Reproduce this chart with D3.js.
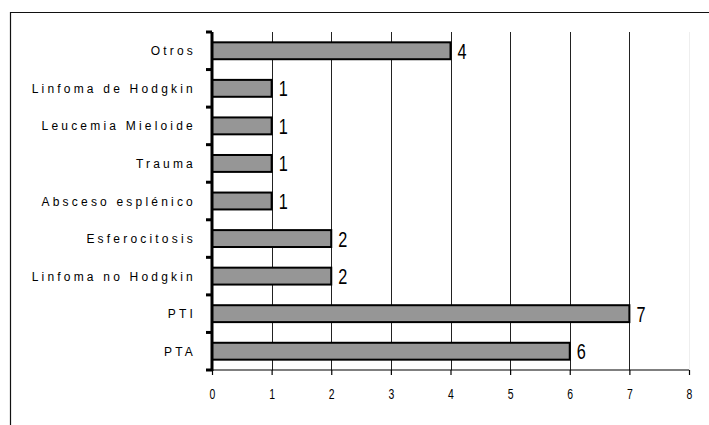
<!DOCTYPE html>
<html>
<head>
<meta charset="utf-8">
<script src="https://cdn.jsdelivr.net/npm/d3@7"></script>
<style>
  html, body { margin: 0; padding: 0; background: #fff; }
  svg { display: block; }
</style>
</head>
<body>
<svg id="chart" width="709" height="425"></svg>
<script>
// Causes of splenectomy, listed top to bottom as drawn
const categories = [
  "Otros",
  "Linfoma de Hodgkin",
  "Leucemia Mieloide",
  "Trauma",
  "Absceso esplénico",
  "Esferocitosis",
  "Linfoma no Hodgkin",
  "PTI",
  "PTA"
];
const values = [4, 1, 1, 1, 1, 2, 2, 7, 6];
const xTicks = [0, 1, 2, 3, 4, 5, 6, 7, 8];

const svg = d3.select("#chart");
const W = 709, H = 425;
const narrowFont = "'Liberation Sans', Arial, sans-serif";

// Frame line (top and left edges)
svg.append("path")
  .attr("d", `M10.5,${H} V12.5 H${W}`)
  .attr("fill", "none")
  .attr("stroke", "#111")
  .attr("stroke-width", 1.2);

const x = d3.scaleLinear().domain([0, 8]).range([212, 689]);
const y = d3.scaleBand().domain(categories).range([32, 370])
  .paddingInner(0.55).paddingOuter(0.275);

const yTop = y.range()[0], yBottom = y.range()[1];

// Vertical gridlines
svg.append("g")
  .selectAll("line")
  .data(xTicks.filter(t => t > 0))
  .join("line")
  .attr("x1", d => Math.round(x(d)) + 0.5)
  .attr("x2", d => Math.round(x(d)) + 0.5)
  .attr("y1", yTop)
  .attr("y2", yBottom)
  .attr("stroke", d => d === 8 ? "#eeeeee" : "#222")
  .attr("stroke-width", 1);

const rows = categories.map((c, i) => ({ c, v: values[i] }));

// Bars
svg.append("g")
  .selectAll("rect")
  .data(rows)
  .join("rect")
  .attr("x", x(0))
  .attr("y", d => y(d.c))
  .attr("width", d => x(d.v) - x(0))
  .attr("height", y.bandwidth())
  .attr("fill", "#969696")
  .attr("stroke", "#000")
  .attr("stroke-width", 2);

// Value labels (condensed digits)
svg.append("g")
  .selectAll("text")
  .data(rows)
  .join("text")
  .attr("transform", d =>
    `translate(${x(d.v) + 7},${y(d.c) + y.bandwidth() / 2 + 8}) scale(0.74,1)`)
  .attr("font-family", narrowFont)
  .attr("font-size", 22)
  .attr("fill", "#000")
  .text(d => d.v);

// X axis
const xAxis = d3.axisBottom(x).tickValues(xTicks).tickSize(5).tickPadding(14)
  .tickFormat(d3.format("d"));
const gx = svg.append("g").attr("transform", `translate(0,${yBottom})`).call(xAxis);
gx.select(".domain").attr("stroke", "#000").attr("stroke-width", 1.2)
  .attr("d", `M${x(0)},0H${x(8)}`);
gx.selectAll(".tick line").attr("stroke", "#000").attr("stroke-width", 1.2);
gx.selectAll(".tick text")
  .attr("transform", "scale(0.72,1)")
  .attr("font-family", narrowFont)
  .attr("font-size", 14.5)
  .attr("fill", "#000");

// Y axis: thick line with ticks on the category boundaries
const step = y.step();
const boundaries = categories.map(c => y(c) - y.paddingInner() * step / 2)
  .concat([yBottom]);
boundaries[0] = yTop;
const gy = svg.append("g");
gy.append("line")
  .attr("x1", x(0)).attr("x2", x(0))
  .attr("y1", yTop).attr("y2", yBottom + 1)
  .attr("stroke", "#000").attr("stroke-width", 3);
gy.selectAll("line.tk")
  .data(boundaries)
  .join("line")
  .attr("class", "tk")
  .attr("x1", x(0) - 6).attr("x2", x(0))
  .attr("y1", d => d).attr("y2", d => d)
  .attr("stroke", "#000").attr("stroke-width", 3);

// Category labels (widely spaced)
gy.selectAll("text")
  .data(categories)
  .join("text")
  .attr("x", 196)
  .attr("y", d => y(d) + y.bandwidth() / 2 + 4.5)
  .attr("text-anchor", "end")
  .attr("font-family", "'Liberation Sans', Arial, sans-serif")
  .attr("font-size", 12)
  .attr("letter-spacing", "3.2px")
  .attr("fill", "#000")
  .text(d => d);
</script>
</body>
</html>
